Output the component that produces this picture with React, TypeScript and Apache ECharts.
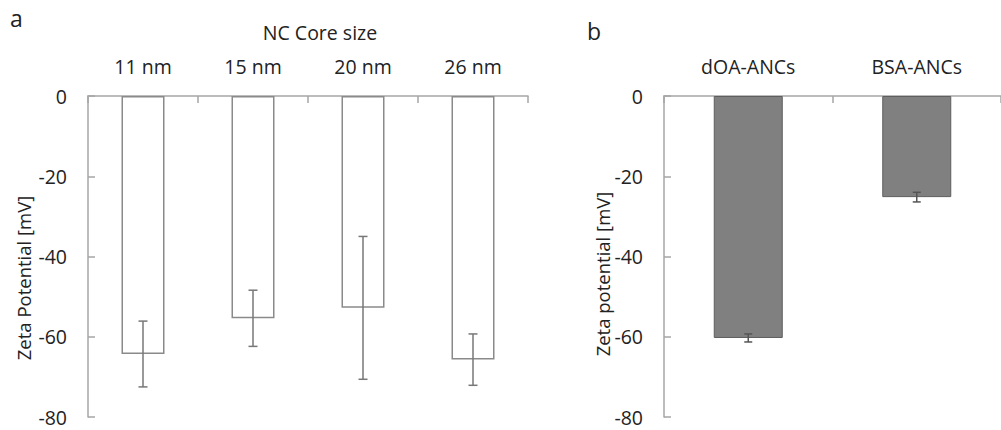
import React, { useEffect, useRef } from "react";
import * as echarts from "echarts";

const categoriesA = ["11 nm", "15 nm", "20 nm", "26 nm"];
const valuesA = [-64.3, -55.4, -52.8, -65.7];
const errorsA = [8.2, 7.0, 17.8, 6.4];

const categoriesB = ["dOA-ANCs", "BSA-ANCs"];
const valuesB = [-60.3, -25.2];
const errorsB = [1.0, 1.2];

const yTicks = [0, -20, -40, -60, -80];

const FONT = "Open Sans";
const AXIS = "#a6a6a6";
const TEXT = "#222";

function errorRenderer(capHalf: number, color: string) {
  return (params: any, api: any) => {
    const x = api.value(0);
    const mean = api.value(1);
    const err = api.value(2);
    const top = api.coord([x, mean + err]);
    const bot = api.coord([x, mean - err]);
    const style = { stroke: color, lineWidth: 1.5 };
    return {
      type: "group",
      children: [
        { type: "line", shape: { x1: top[0], y1: top[1], x2: bot[0], y2: bot[1] }, style },
        { type: "line", shape: { x1: top[0] - capHalf, y1: top[1], x2: top[0] + capHalf, y2: top[1] }, style },
        { type: "line", shape: { x1: bot[0] - capHalf, y1: bot[1], x2: bot[0] + capHalf, y2: bot[1] }, style },
      ],
    };
  };
}

export default function App() {
  const ref = useRef<HTMLDivElement>(null);
  useEffect(() => {
    if (!ref.current) return;
    const chart = echarts.init(ref.current, undefined, { renderer: "svg" });
    const yAxisBase = (gridIndex: number) => ({
      type: "value",
      gridIndex,
      min: -80,
      max: 0,
      interval: 20,
      axisLine: { show: true, lineStyle: { color: AXIS, width: 1.5 } },
      axisTick: { show: true, inside: true, length: 7, lineStyle: { color: AXIS, width: 1.5 } },
      splitLine: { show: false },
      axisLabel: {
        margin: 21,
        fontSize: 19.5,
        fontFamily: FONT,
        color: TEXT,
        formatter: (v: number) => (yTicks.includes(v) ? String(v) : ""),
      },
    });
    const xAxisBase = (gridIndex: number, data: string[]) => ({
      type: "category",
      gridIndex,
      data,
      position: "top",
      axisLine: { show: true, onZero: false, lineStyle: { color: AXIS, width: 1.5 } },
      axisTick: { show: true, inside: true, length: 7, lineStyle: { color: AXIS, width: 1.5 } },
      axisLabel: { margin: 20, fontSize: 19.5, fontFamily: FONT, color: TEXT },
    });
    chart.setOption({
      animation: false,
      backgroundColor: "#fff",
      grid: [
        { left: 88, top: 96, width: 440, height: 321 },
        { left: 664, top: 96, width: 340, height: 321 },
      ],
      xAxis: [xAxisBase(0, categoriesA), xAxisBase(1, categoriesB)],
      yAxis: [yAxisBase(0), yAxisBase(1)],
      series: [
        {
          type: "bar",
          xAxisIndex: 0,
          yAxisIndex: 0,
          data: valuesA,
          barWidth: 43,
          itemStyle: { color: "#fff", borderColor: "#8a8a8a", borderWidth: 1.5 },
        },
        {
          type: "custom",
          xAxisIndex: 0,
          yAxisIndex: 0,
          data: valuesA.map((v, i) => [i, v, errorsA[i]]),
          renderItem: errorRenderer(4.5, "#777"),
          z: 5,
        },
        {
          type: "bar",
          xAxisIndex: 1,
          yAxisIndex: 1,
          data: valuesB,
          barWidth: 69,
          itemStyle: { color: "#808080", borderColor: "#5e5e5e", borderWidth: 1 },
        },
        {
          type: "custom",
          xAxisIndex: 1,
          yAxisIndex: 1,
          data: valuesB.map((v, i) => [i, v, errorsB[i]]),
          renderItem: errorRenderer(4, "#555"),
          z: 5,
        },
      ],
      graphic: [
        { type: "text", left: 10, top: 6, style: { text: "a", fontSize: 23, fontFamily: FONT, fill: TEXT } },
        { type: "text", left: 587, top: 19, style: { text: "b", fontSize: 23, fontFamily: FONT, fill: TEXT } },
        {
          type: "text",
          x: 320,
          y: 32,
          style: { text: "NC Core size", fontSize: 19.5, fontFamily: FONT, fill: TEXT, align: "center", verticalAlign: "middle" },
        },
        {
          type: "text",
          x: 23,
          y: 278,
          rotation: Math.PI / 2,
          style: { text: "Zeta Potential [mV]", fontSize: 18.5, fontFamily: FONT, fill: TEXT, align: "center", verticalAlign: "middle" },
        },
        {
          type: "text",
          x: 602,
          y: 274,
          rotation: Math.PI / 2,
          style: { text: "Zeta potential [mV]", fontSize: 18.5, fontFamily: FONT, fill: TEXT, align: "center", verticalAlign: "middle" },
        },
      ],
    });
    return () => chart.dispose();
  }, []);
  return <div ref={ref} style={{ width: 1001, height: 430, position: "absolute", left: 0, top: 0 }} />;
}
